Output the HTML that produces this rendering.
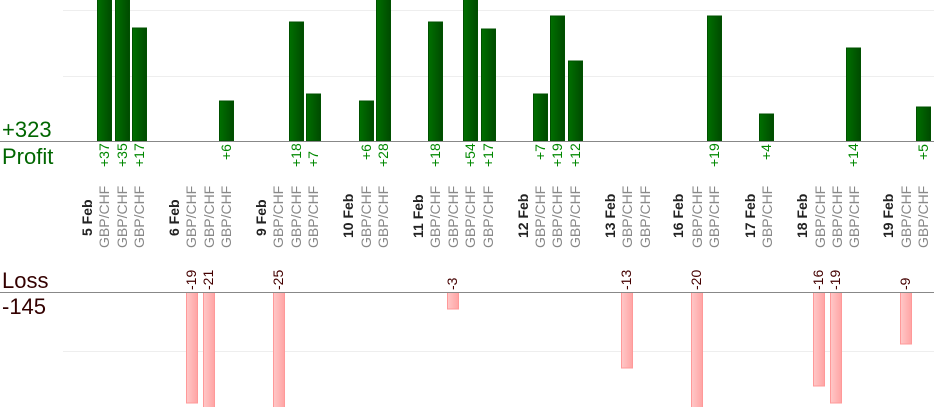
<!DOCTYPE html>
<html><head><meta charset="utf-8"><style>
html,body{margin:0;padding:0;background:#fff;}
svg{display:block;font-family:"Liberation Sans",Arial,sans-serif;}
</style></head><body>
<svg width="934" height="420" viewBox="0 0 934 420" xmlns="http://www.w3.org/2000/svg">
<defs>
<linearGradient id="g" x1="0" x2="1" y1="0" y2="0"><stop offset="0" stop-color="#007000"/><stop offset="1" stop-color="#004a00"/></linearGradient>
<linearGradient id="r" x1="0" x2="1" y1="0" y2="0"><stop offset="0" stop-color="#ffc8c8"/><stop offset="1" stop-color="#ffa4a4"/></linearGradient>
<clipPath id="ct"><rect x="0" y="0" width="934" height="141"/></clipPath>
<clipPath id="cb"><rect x="0" y="292" width="934" height="115"/></clipPath>
</defs>
<line x1="63" y1="10.5" x2="934" y2="10.5" stroke="#eee"/>
<line x1="63" y1="76.5" x2="934" y2="76.5" stroke="#eee"/>
<line x1="63" y1="351.5" x2="934" y2="351.5" stroke="#eee"/>

<g clip-path="url(#ct)" fill="url(#g)" stroke="#005000" stroke-width="1">
<rect x="97.5" y="-105" width="14" height="246"/>
<rect x="115.5" y="-92" width="14" height="233"/>
<rect x="132.5" y="28" width="14" height="113"/>
<rect x="219.5" y="101" width="14" height="40"/>
<rect x="289.5" y="22" width="14" height="119"/>
<rect x="306.5" y="94" width="14" height="47"/>
<rect x="359.5" y="101" width="14" height="40"/>
<rect x="376.5" y="-45" width="14" height="186"/>
<rect x="428.5" y="22" width="14" height="119"/>
<rect x="463.5" y="-218" width="14" height="359"/>
<rect x="481.5" y="29" width="14" height="112"/>
<rect x="533.5" y="94" width="14" height="47"/>
<rect x="550.5" y="16" width="14" height="125"/>
<rect x="568.5" y="61" width="14" height="80"/>
<rect x="707.5" y="16" width="14" height="125"/>
<rect x="759.5" y="114" width="14" height="27"/>
<rect x="846.5" y="48" width="14" height="93"/>
<rect x="916.5" y="107" width="14" height="34"/>
</g>
<g clip-path="url(#cb)" fill="url(#r)" stroke="#f99" stroke-width="1">
<rect x="186.5" y="292" width="11" height="111"/>
<rect x="203.5" y="292" width="11" height="123"/>
<rect x="273.5" y="292" width="11" height="146"/>
<rect x="447.5" y="292" width="11" height="17"/>
<rect x="621.5" y="292" width="11" height="76"/>
<rect x="691.5" y="292" width="11" height="117"/>
<rect x="813.5" y="292" width="11" height="94"/>
<rect x="830.5" y="292" width="11" height="111"/>
<rect x="900.5" y="292" width="11" height="52"/>
</g>
<line x1="0" y1="141.5" x2="934" y2="141.5" stroke="#888"/>
<line x1="0" y1="292.5" x2="934" y2="292.5" stroke="#888"/>

<text x="2" y="137" font-size="22" fill="#060">+323</text>
<text x="2" y="164" font-size="22" fill="#060">Profit</text>
<text x="2" y="288" font-size="22" fill="#300">Loss</text>
<text x="2" y="314" font-size="22" fill="#300">-145</text>

<g font-size="14" fill="#080">
<text transform="translate(109,167) rotate(-90)">+37</text>
<text transform="translate(127,167) rotate(-90)">+35</text>
<text transform="translate(144,167) rotate(-90)">+17</text>
<text transform="translate(231,160) rotate(-90)">+6</text>
<text transform="translate(301,167) rotate(-90)">+18</text>
<text transform="translate(318,167) rotate(-90)">+7</text>
<text transform="translate(371,160) rotate(-90)">+6</text>
<text transform="translate(388,167) rotate(-90)">+28</text>
<text transform="translate(440,167) rotate(-90)">+18</text>
<text transform="translate(475,167) rotate(-90)">+54</text>
<text transform="translate(493,167) rotate(-90)">+17</text>
<text transform="translate(545,160) rotate(-90)">+7</text>
<text transform="translate(562,167) rotate(-90)">+19</text>
<text transform="translate(580,167) rotate(-90)">+12</text>
<text transform="translate(719,167) rotate(-90)">+19</text>
<text transform="translate(771,160) rotate(-90)">+4</text>
<text transform="translate(858,167) rotate(-90)">+14</text>
<text transform="translate(928,160) rotate(-90)">+5</text>
</g>
<g font-size="14" fill="#400">
<text transform="translate(196,290) rotate(-90)">-19</text>
<text transform="translate(213,290) rotate(-90)">-21</text>
<text transform="translate(283,290) rotate(-90)">-25</text>
<text transform="translate(457,290) rotate(-90)">-3</text>
<text transform="translate(631,290) rotate(-90)">-13</text>
<text transform="translate(701,290) rotate(-90)">-20</text>
<text transform="translate(823,290) rotate(-90)">-16</text>
<text transform="translate(840,290) rotate(-90)">-19</text>
<text transform="translate(910,290) rotate(-90)">-9</text>
</g>
<g font-size="14" font-weight="bold" fill="#222">
<text transform="translate(92,236) rotate(-90)">5 Feb</text>
<text transform="translate(179,236) rotate(-90)">6 Feb</text>
<text transform="translate(266,236) rotate(-90)">9 Feb</text>
<text transform="translate(353,238) rotate(-90)">10 Feb</text>
<text transform="translate(423,238) rotate(-90)">11 Feb</text>
<text transform="translate(528,238) rotate(-90)">12 Feb</text>
<text transform="translate(615,238) rotate(-90)">13 Feb</text>
<text transform="translate(683,238) rotate(-90)">16 Feb</text>
<text transform="translate(755,238) rotate(-90)">17 Feb</text>
<text transform="translate(807,238) rotate(-90)">18 Feb</text>
<text transform="translate(893,238) rotate(-90)">19 Feb</text>
</g>
<g font-size="14" fill="#888">
<text transform="translate(109,248) rotate(-90)">GBP/CHF</text>
<text transform="translate(127,248) rotate(-90)">GBP/CHF</text>
<text transform="translate(144,248) rotate(-90)">GBP/CHF</text>
<text transform="translate(196,248) rotate(-90)">GBP/CHF</text>
<text transform="translate(214,248) rotate(-90)">GBP/CHF</text>
<text transform="translate(231,248) rotate(-90)">GBP/CHF</text>
<text transform="translate(283,248) rotate(-90)">GBP/CHF</text>
<text transform="translate(301,248) rotate(-90)">GBP/CHF</text>
<text transform="translate(318,248) rotate(-90)">GBP/CHF</text>
<text transform="translate(371,248) rotate(-90)">GBP/CHF</text>
<text transform="translate(388,248) rotate(-90)">GBP/CHF</text>
<text transform="translate(440,248) rotate(-90)">GBP/CHF</text>
<text transform="translate(458,248) rotate(-90)">GBP/CHF</text>
<text transform="translate(475,248) rotate(-90)">GBP/CHF</text>
<text transform="translate(493,248) rotate(-90)">GBP/CHF</text>
<text transform="translate(545,248) rotate(-90)">GBP/CHF</text>
<text transform="translate(562,248) rotate(-90)">GBP/CHF</text>
<text transform="translate(580,248) rotate(-90)">GBP/CHF</text>
<text transform="translate(632,248) rotate(-90)">GBP/CHF</text>
<text transform="translate(650,248) rotate(-90)">GBP/CHF</text>
<text transform="translate(702,248) rotate(-90)">GBP/CHF</text>
<text transform="translate(719,248) rotate(-90)">GBP/CHF</text>
<text transform="translate(772,248) rotate(-90)">GBP/CHF</text>
<text transform="translate(825,248) rotate(-90)">GBP/CHF</text>
<text transform="translate(842,248) rotate(-90)">GBP/CHF</text>
<text transform="translate(859,248) rotate(-90)">GBP/CHF</text>
<text transform="translate(911,248) rotate(-90)">GBP/CHF</text>
<text transform="translate(928,248) rotate(-90)">GBP/CHF</text>
</g>
</svg>
</body></html>
